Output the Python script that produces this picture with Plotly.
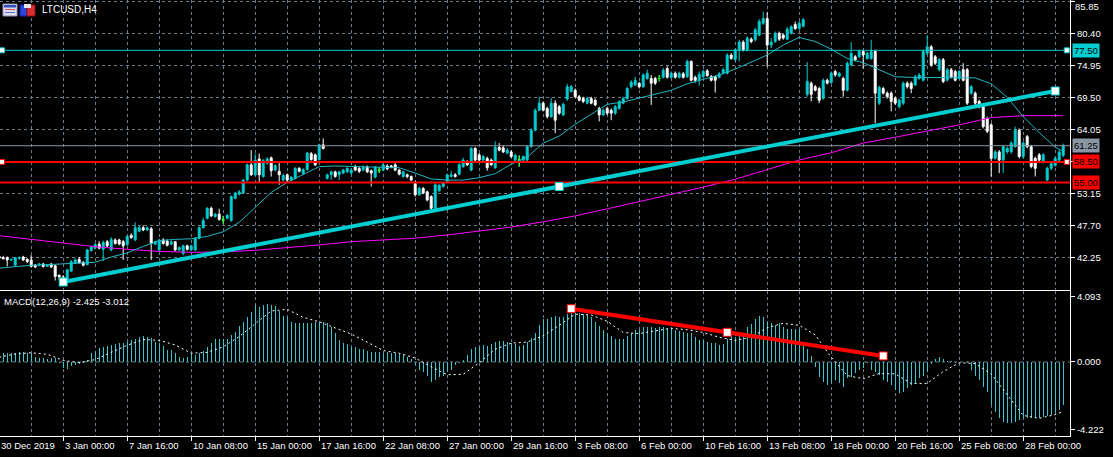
import plotly.graph_objects as go

# ---------------- data ----------------
bars = list(range(267))

open_ = [
    42.4, 42.2, 42.2, 41.8, 40.9, 42.1, 42.3, 41.9, 41.8, 40.9,
    40.9, 41.1, 40.7, 41.1, 40.8, 39.2, 38.9, 38.4, 39.9, 41.2,
    41.9, 41.4, 41.0, 43.4, 43.8, 44.5, 43.6, 44.9, 43.5, 45.2,
    45.2, 44.9, 44.4, 46.0, 45.2, 46.7, 47.3, 46.9, 47.1, 44.5,
    43.5, 45.2, 45.0, 44.5, 44.9, 43.5, 42.9, 44.2, 43.5, 43.5,
    45.5, 47.3, 48.9, 50.6, 49.2, 49.6, 48.6, 48.9, 48.5, 52.3,
    53.0, 53.2, 55.4, 58.0, 56.3, 59.0, 56.0, 58.3, 59.2, 57.1,
    56.9, 55.4, 56.3, 55.4, 55.7, 57.4, 56.5, 57.2, 59.9, 59.7,
    58.9, 61.4, 55.7, 56.3, 56.8, 56.3, 56.6, 56.8, 56.6, 57.7,
    57.4, 57.1, 57.6, 57.0, 55.9, 57.1, 57.1, 57.8, 57.8, 58.0,
    57.1, 56.0, 56.3, 56.0, 54.8, 52.9, 54.0, 53.4, 52.6, 50.6,
    53.6, 54.3, 55.1, 56.0, 56.3, 56.4, 57.7, 58.5, 57.1, 60.8,
    59.7, 58.8, 59.1, 58.8, 57.5, 61.0, 60.9, 60.0, 60.2, 58.8,
    58.8, 58.8, 58.8, 61.1, 63.9, 67.3, 68.5, 67.6, 66.2, 68.5,
    67.9, 66.5, 69.2, 70.5, 70.7, 69.6, 69.3, 68.5, 69.3, 69.0,
    67.6, 66.5, 67.6, 67.3, 66.8, 67.6, 68.5, 69.3, 71.3, 71.6,
    71.9, 71.3, 72.7, 72.7, 72.7, 72.7, 72.9, 74.4, 72.9, 73.6,
    72.9, 73.5, 73.0, 75.6, 72.9, 72.4, 73.0, 74.0, 73.0, 73.0,
    72.9, 73.6, 73.6, 76.7, 75.9, 77.6, 78.9, 77.6, 79.4, 79.3,
    80.1, 82.1, 82.9, 78.4, 79.0, 80.4, 80.1, 79.4, 80.4, 81.9,
    81.2, 81.6, 70.0, 71.9, 71.3, 71.0, 69.3, 72.4, 72.0, 73.9,
    73.1, 72.7, 70.7, 75.0, 76.4, 76.4, 77.3, 76.1, 76.1, 77.3,
    68.5, 71.0, 70.2, 70.2, 69.3, 67.9, 68.5, 71.9, 71.9, 71.6,
    72.7, 72.4, 77.0, 78.1, 76.4, 74.2, 75.9, 72.4, 74.2, 73.9,
    72.7, 74.2, 74.2, 70.2, 70.2, 68.8, 67.9, 65.9, 64.8, 59.1,
    60.2, 58.8, 60.2, 60.2, 61.1, 63.9, 59.4, 62.8, 61.1, 59.1,
    59.7, 58.5, 55.4, 57.4, 57.9, 58.8, 59.6,
]
high = [
    42.7, 42.5, 42.4, 42.0, 42.3, 42.4, 42.5, 42.1, 42.6, 41.1,
    41.3, 41.3, 41.1, 41.3, 41.0, 39.3, 39.2, 40.3, 41.8, 42.1,
    42.3, 41.6, 43.7, 44.2, 44.7, 45.0, 45.1, 45.2, 45.7, 45.5,
    45.4, 45.2, 46.0, 46.3, 48.2, 47.6, 47.7, 47.5, 47.4, 45.1,
    45.4, 45.5, 45.3, 45.1, 45.0, 44.1, 44.4, 44.4, 44.4, 45.7,
    47.5, 49.0, 50.8, 50.9, 49.8, 50.5, 49.3, 49.6, 52.8, 53.4,
    53.7, 55.6, 58.2, 60.5, 59.9, 59.9, 59.0, 59.3, 59.4, 58.1,
    58.5, 56.5, 56.5, 56.1, 57.6, 57.6, 57.4, 60.2, 60.2, 59.9,
    61.6, 62.5, 56.5, 57.0, 57.0, 57.0, 57.3, 57.6, 57.4, 58.0,
    57.6, 57.9, 57.9, 57.2, 57.8, 57.6, 58.3, 58.1, 58.0, 58.3,
    57.3, 57.0, 56.5, 56.2, 55.3, 54.3, 54.2, 53.6, 52.8, 55.0,
    54.7, 55.1, 56.5, 57.0, 56.6, 58.3, 59.2, 58.8, 61.0, 61.0,
    60.0, 59.7, 59.4, 59.1, 62.0, 61.7, 61.3, 60.9, 60.5, 59.9,
    59.6, 59.6, 61.3, 64.2, 67.6, 69.6, 68.8, 67.9, 69.4, 69.0,
    68.2, 68.6, 71.8, 71.6, 71.0, 69.9, 69.6, 69.6, 69.6, 69.3,
    67.9, 67.6, 67.9, 67.6, 68.2, 69.0, 69.6, 71.3, 72.4, 73.0,
    72.1, 73.6, 74.2, 73.3, 73.0, 73.3, 74.5, 74.8, 73.9, 73.9,
    73.9, 73.8, 75.9, 75.8, 73.2, 73.9, 74.2, 74.3, 73.3, 73.2,
    73.8, 74.5, 77.0, 77.0, 77.8, 79.3, 79.2, 79.9, 79.7, 81.3,
    82.8, 84.1, 84.0, 79.6, 80.7, 80.7, 80.4, 81.5, 81.8, 82.4,
    82.5, 83.0, 75.5, 72.2, 71.6, 71.3, 72.7, 72.7, 73.9, 74.2,
    73.8, 73.0, 75.6, 78.9, 76.7, 77.6, 77.6, 77.3, 79.3, 77.6,
    71.5, 71.3, 70.5, 70.5, 69.6, 69.3, 72.2, 72.2, 72.2, 73.3,
    73.6, 77.6, 80.1, 78.4, 76.7, 76.2, 76.2, 74.5, 74.5, 74.2,
    74.2, 75.3, 74.5, 71.6, 70.5, 69.1, 68.2, 66.2, 65.1, 60.5,
    60.5, 61.4, 61.1, 62.0, 64.5, 64.2, 62.0, 63.1, 61.4, 59.4,
    60.0, 60.0, 57.7, 58.5, 59.4, 60.5, 61.6,
]
low = [
    42.0, 41.9, 40.7, 41.6, 40.8, 41.8, 41.6, 41.3, 40.5, 40.4,
    40.7, 40.5, 40.6, 40.4, 38.3, 38.4, 37.95, 38.2, 39.8, 41.1,
    41.2, 40.7, 40.9, 43.2, 43.6, 43.6, 41.6, 44.0, 43.3, 44.4,
    44.3, 41.8, 44.2, 45.4, 45.0, 46.5, 46.7, 46.7, 41.8, 44.3,
    43.3, 44.4, 44.1, 44.3, 43.3, 43.3, 42.6, 43.4, 43.3, 43.3,
    45.3, 47.1, 48.7, 49.1, 49.0, 48.5, 48.0, 48.7, 48.3, 52.1,
    52.8, 53.0, 55.2, 56.1, 56.1, 54.9, 55.8, 58.0, 56.0, 56.9,
    54.6, 55.2, 55.0, 55.2, 55.5, 56.7, 56.3, 57.0, 58.7, 57.8,
    58.7, 60.6, 55.5, 55.4, 55.8, 55.4, 56.4, 56.6, 56.3, 56.9,
    56.6, 56.9, 56.6, 54.3, 55.7, 56.6, 56.9, 57.1, 57.4, 56.9,
    56.2, 55.8, 55.7, 55.2, 52.6, 52.7, 53.0, 51.8, 50.2, 50.4,
    53.4, 54.1, 54.9, 55.8, 55.8, 56.2, 57.5, 57.8, 56.9, 58.6,
    58.6, 58.6, 57.0, 57.8, 57.3, 60.3, 60.0, 59.8, 59.2, 58.6,
    57.7, 58.6, 58.6, 60.9, 63.7, 67.1, 67.1, 65.9, 66.0, 63.4,
    66.5, 66.3, 68.9, 70.3, 69.4, 68.8, 68.5, 68.3, 68.3, 68.0,
    65.4, 66.3, 66.5, 65.6, 66.5, 67.4, 68.3, 69.1, 71.0, 71.4,
    71.0, 71.1, 72.5, 68.2, 71.6, 72.2, 72.7, 72.7, 72.7, 72.7,
    72.7, 72.7, 72.8, 72.2, 72.0, 71.5, 72.8, 73.0, 72.2, 70.3,
    72.7, 73.4, 73.4, 75.9, 75.7, 75.6, 77.3, 77.3, 78.7, 79.0,
    79.9, 81.8, 74.7, 77.9, 78.8, 79.1, 79.3, 79.2, 80.2, 81.0,
    81.0, 81.4, 69.6, 68.8, 70.5, 68.5, 69.1, 71.7, 71.8, 73.0,
    72.9, 69.6, 70.5, 74.8, 75.6, 76.2, 74.4, 75.9, 75.9, 65.1,
    68.2, 70.0, 69.3, 67.1, 68.2, 67.6, 68.2, 71.0, 70.2, 71.4,
    72.5, 72.2, 76.7, 74.7, 75.0, 73.9, 71.9, 72.2, 72.7, 72.2,
    72.5, 72.2, 68.2, 69.9, 68.2, 67.6, 64.2, 63.4, 56.0, 58.9,
    56.6, 56.6, 59.9, 59.9, 60.9, 59.1, 59.1, 60.8, 57.4, 56.0,
    58.5, 58.2, 55.2, 57.1, 57.7, 58.5, 59.3,
]
close = [
    42.1, 42.0, 41.8, 41.9, 42.2, 42.2, 41.8, 41.5, 40.7, 40.6,
    41.1, 40.7, 40.9, 40.6, 39.0, 38.9, 38.5, 40.1, 41.5, 41.8,
    41.3, 40.9, 43.5, 44.0, 44.4, 43.8, 44.8, 44.2, 45.3, 44.6,
    44.5, 44.2, 45.8, 45.6, 47.3, 47.3, 46.9, 47.3, 44.6, 44.9,
    45.2, 44.6, 44.3, 44.9, 43.5, 43.9, 44.2, 43.6, 44.2, 45.5,
    47.3, 48.5, 50.6, 49.3, 49.6, 48.7, 48.6, 49.4, 52.6, 53.2,
    53.4, 55.4, 58.0, 56.3, 58.8, 56.3, 58.7, 59.0, 57.0, 57.9,
    56.3, 56.2, 55.4, 55.9, 57.4, 56.9, 57.2, 60.0, 58.9, 58.0,
    61.4, 60.8, 56.3, 56.8, 56.0, 56.8, 57.1, 57.4, 57.1, 57.1,
    56.9, 57.6, 56.8, 56.6, 57.6, 57.1, 58.0, 57.3, 57.6, 57.1,
    56.4, 56.8, 56.0, 55.4, 52.9, 54.0, 53.2, 52.0, 50.6, 54.6,
    54.5, 54.9, 56.3, 56.3, 56.0, 58.0, 58.8, 58.0, 60.8, 58.8,
    58.8, 59.4, 57.5, 58.0, 61.0, 60.5, 60.2, 60.5, 59.4, 59.6,
    58.8, 59.4, 61.1, 63.9, 67.3, 68.5, 67.3, 66.2, 68.5, 65.6,
    66.8, 68.3, 71.3, 71.3, 69.6, 69.0, 68.8, 69.3, 68.5, 68.2,
    66.5, 67.3, 66.8, 66.8, 67.9, 68.8, 69.3, 71.0, 72.1, 72.4,
    71.3, 73.3, 73.6, 71.9, 71.9, 72.7, 74.1, 72.9, 73.6, 72.9,
    73.6, 72.9, 75.6, 72.4, 72.4, 73.4, 73.9, 73.2, 72.4, 72.4,
    73.5, 74.2, 76.7, 76.1, 77.6, 78.9, 77.6, 79.6, 79.0, 81.0,
    82.4, 82.9, 78.4, 78.9, 80.4, 79.4, 79.6, 81.1, 81.5, 81.2,
    82.1, 82.7, 72.2, 70.0, 70.7, 69.0, 72.4, 71.9, 73.6, 73.3,
    73.6, 70.7, 75.3, 77.0, 75.9, 77.3, 76.7, 77.0, 77.3, 70.2,
    71.2, 70.2, 69.6, 68.8, 68.5, 69.0, 71.9, 71.3, 71.0, 73.0,
    73.3, 77.3, 78.1, 75.0, 75.3, 75.9, 72.2, 74.2, 73.0, 72.4,
    73.9, 72.4, 68.5, 71.3, 68.5, 67.9, 64.5, 63.7, 59.1, 60.2,
    58.8, 61.1, 60.8, 61.7, 63.9, 59.4, 61.7, 61.1, 57.7, 57.4,
    58.8, 59.7, 57.4, 58.2, 59.1, 60.2, 61.25,
]

# moving averages (at regular bar positions)
fast_ma_bars = list(range(0, 265, 4)) + [266]
fast_ma = [
    40.4, 40.7, 40.9, 41.0, 41.1, 41.2, 41.4, 42.3, 43.0, 44.1,
    45.1, 45.3, 45.4, 45.8, 46.6, 48.2, 50.7, 53.3, 55.0, 56.3,
    57.7, 57.8, 57.7, 57.6, 57.6, 57.5, 56.6, 55.6, 55.4, 55.4,
    55.8, 56.5, 58.1, 59.3, 61.7, 62.9, 64.9, 66.6, 68.3, 68.7,
    69.4, 70.0, 70.7, 71.8, 72.6, 73.3, 74.3, 75.5, 76.7, 78.4,
    79.7, 79.0, 77.7, 76.1, 75.4, 74.2, 73.0, 72.9, 72.9, 72.9,
    72.9, 72.8, 71.8, 69.5, 66.2, 63.5, 61.0, 60.3,
]
slow_ma_bars = list(range(0, 257, 8)) + [266]
slow_ma = [
    45.93, 45.32, 44.70, 44.06, 43.61, 43.25, 43.10, 43.15, 43.45, 43.85,
    44.35, 44.91, 45.20, 45.50, 46.05, 46.70, 47.40, 48.30, 49.30, 50.50,
    51.70, 52.90, 54.20, 55.55, 57.12, 58.82, 60.05, 61.70, 62.70, 63.70,
    64.80, 66.05, 66.37, 66.37,
]

# MACD(12,26,9)
macd_main = [
    0.58, 0.59, 0.59, 0.59, 0.59, 0.63, 0.63, 0.59, 0.54, 0.33,
    0.23, 0.23, 0.17, 0.23, 0.23, -0.04, -0.40, -0.44, -0.25, -0.19,
    -0.13, -0.08, 0.13, 0.54, 0.71, 0.86, 0.92, 1.00, 1.07, 1.13,
    1.17, 1.21, 1.27, 1.38, 1.44, 1.55, 1.65, 1.59, 1.48, 1.27,
    1.21, 1.00, 0.75, 0.75, 0.54, 0.33, 0.25, 0.33, 0.59, 0.45,
    0.54, 0.69, 0.92, 1.17, 1.42, 1.42, 1.42, 1.42, 1.69, 1.90,
    2.26, 2.53, 2.84, 3.16, 3.57, 3.47, 3.57, 3.62, 3.57, 3.51,
    3.22, 2.88, 2.80, 2.53, 2.47, 2.47, 2.47, 2.47, 2.47, 2.53,
    2.53, 2.49, 2.42, 2.17, 1.84, 1.38, 1.21, 1.13, 0.92, 0.92,
    0.79, 0.79, 0.71, 0.63, 0.65, 0.63, 0.59, 0.65, 0.59, 0.54,
    0.50, 0.44, 0.33, 0.17, -0.19, -0.50, -0.61, -0.88, -1.23, -1.13,
    -0.96, -0.88, -0.61, -0.50, -0.19, -0.04, 0.13, 0.44, 0.79, 0.92,
    0.96, 1.07, 1.00, 1.13, 1.27, 1.34, 1.34, 1.27, 1.17, 1.13,
    1.00, 1.06, 1.27, 1.48, 1.84, 2.32, 2.68, 2.68, 2.80, 2.88,
    2.80, 2.80, 3.01, 3.05, 3.05, 3.05, 3.01, 2.95, 2.80, 2.53,
    2.26, 2.00, 1.80, 1.63, 1.42, 1.42, 1.42, 1.63, 1.80, 2.00,
    2.00, 2.17, 2.17, 2.17, 2.10, 2.17, 2.17, 2.10, 2.05, 2.00,
    1.96, 1.90, 1.80, 1.80, 1.55, 1.38, 1.38, 1.27, 1.21, 1.17,
    1.07, 1.13, 1.42, 1.69, 1.59, 1.80, 1.84, 2.17, 2.38, 2.68,
    2.88, 2.84, 2.53, 2.42, 2.32, 2.42, 2.17, 2.05, 2.05, 2.05,
    2.05, 1.21, 0.79, 0.38, -0.29, -0.92, -1.23, -1.44, -1.34, -1.13,
    -1.34, -1.59, -1.02, -0.96, -0.71, -0.50, -0.40, -0.04, -0.50, -0.61,
    -0.82, -1.13, -1.23, -1.44, -1.76, -1.96, -1.86, -1.65, -1.44, -1.30,
    -1.02, -0.88, -0.61, -0.13, 0.17, 0.29, 0.17, 0.08, 0.08, -0.04,
    0.02, 0.02, -0.08, -0.50, -0.88, -1.13, -1.55, -1.86, -2.70, -3.11,
    -3.53, -3.74, -3.85, -3.85, -3.74, -3.64, -3.53, -3.53, -3.53, -3.53,
    -3.53, -3.43, -3.40, -3.35, -3.20, -2.98, -2.70,
]
signal_bars = list(range(0, 265, 4)) + [266]
macd_signal = [
    0.30, 0.50, 0.58, 0.48, 0.10, -0.04, 0.15, 0.60, 1.05, 1.40,
    1.36, 1.07, 0.55, 0.60, 0.95, 1.59, 2.40, 3.20, 3.30, 2.80,
    2.52, 2.15, 1.75, 1.25, 0.72, 0.55, 0.25, -0.30, -0.80, -0.77,
    -0.05, 0.80, 1.18, 1.25, 1.65, 2.30, 3.00, 2.95, 2.55, 1.85,
    1.78, 1.95, 2.11, 2.02, 1.85, 1.55, 1.35, 1.55, 2.15, 2.42,
    2.30, 1.70, 0.30, -0.85, -1.05, -0.72, -0.75, -1.35, -1.34, -0.60,
    -0.05, -0.10, -0.75, -2.05, -3.35, -3.53, -3.30, -3.10,
]

# chart objects
trend_bars = [16, 264]
trend_prices = [38.04, 70.57]
macd_line_bars = [143, 221]
macd_line_values = [3.34, 0.38]
bid_price = 61.25
hline_levels = [77.50, 58.50, 55.00]
hline_colors = ["#00ced1", "#ff0000", "#ff0000"]
hline_widths = [1, 2, 2]
hline_selected = [True, True, False]

price_ticks = [42.25, 47.70, 53.15, 58.60, 64.05, 69.50, 74.95, 80.40, 85.85]
price_tick_text = ["42.25", "47.70", "53.15", "", "64.05", "69.50", "74.95", "80.40", ""]
top_price_label = 85.85
macd_ticks = [-4.222, 0.0, 4.093]
macd_tick_text = ["-4.222", "0.000", "4.093"]
date_label_bars = list(range(0, 257, 16))
date_labels = ["30 Dec 2019", "3 Jan 00:00", "7 Jan 16:00", "10 Jan 08:00",
               "15 Jan 00:00", "17 Jan 16:00", "22 Jan 08:00", "27 Jan 00:00",
               "29 Jan 16:00", "3 Feb 08:00", "6 Feb 00:00", "10 Feb 16:00",
               "13 Feb 08:00", "18 Feb 00:00", "20 Feb 16:00", "25 Feb 08:00",
               "28 Feb 00:00"]
title_text = "LTCUSD,H4"
macd_title = "MACD(12,26,9) -2.425 -3.012"

# ---------------- style ----------------
W, H = 1113, 457
MR, MB = 43, 21
PW, PH = W - MR, H - MB
X_RANGE = [0.2, 267.7]
PRICE_RANGE = [36.68, 86.07]
MACD_RANGE = [-4.64, 4.45]
PRICE_DOMAIN = [146 / PH, 1]
MACD_DOMAIN = [0, 145 / PH]
BULL = "#00ced1"
BEAR = "#ffffff"
GRID = "#6e7b8b"
FONT = "Liberation Sans"
FS = 9.5

fig = go.Figure()

fig.add_trace(go.Candlestick(
    x=bars, open=open_, high=high, low=low, close=close,
    increasing=dict(line=dict(color=BULL, width=1), fillcolor=BULL),
    decreasing=dict(line=dict(color=BEAR, width=1), fillcolor=BEAR),
    whiskerwidth=0, hoverinfo="skip", showlegend=False, xaxis="x", yaxis="y"))

# doji crosses (open == close) drawn in lime
dx, dy = [], []
for i in bars:
    if open_[i] == close[i]:
        dx += [i, i, None, i - 0.4, i + 0.4, None]
        dy += [low[i], high[i], None, close[i], close[i], None]
fig.add_trace(go.Scatter(x=dx, y=dy, mode="lines", line=dict(color="#00ff00", width=1),
                         hoverinfo="skip", showlegend=False, xaxis="x", yaxis="y"))

fig.add_trace(go.Scatter(x=slow_ma_bars, y=slow_ma, mode="lines",
                         line=dict(color="#ff00ff", width=1), hoverinfo="skip",
                         showlegend=False, xaxis="x", yaxis="y"))
fig.add_trace(go.Scatter(x=fast_ma_bars, y=fast_ma, mode="lines",
                         line=dict(color="#20b8c4", width=1), hoverinfo="skip",
                         showlegend=False, xaxis="x", yaxis="y"))

# bid line
fig.add_trace(go.Scatter(x=X_RANGE, y=[bid_price, bid_price], mode="lines",
                         line=dict(color="#8a96a3", width=1), hoverinfo="skip",
                         showlegend=False, xaxis="x", yaxis="y"))

# horizontal lines
for lvl, col, wd, sel in zip(hline_levels, hline_colors, hline_widths, hline_selected):
    fig.add_trace(go.Scatter(x=X_RANGE, y=[lvl, lvl], mode="lines",
                             line=dict(color=col, width=wd), hoverinfo="skip",
                             showlegend=False, xaxis="x", yaxis="y"))
    if sel:
        fig.add_trace(go.Scatter(x=[X_RANGE[0] + 0.5, X_RANGE[1] - 0.8], y=[lvl, lvl],
                                 mode="markers",
                                 marker=dict(symbol="square", size=5, color="white",
                                             line=dict(color=col, width=1)),
                                 hoverinfo="skip", showlegend=False, cliponaxis=False,
                                 xaxis="x", yaxis="y"))

# trend line
fig.add_trace(go.Scatter(x=trend_bars, y=trend_prices, mode="lines",
                         line=dict(color=BULL, width=4), hoverinfo="skip",
                         showlegend=False, xaxis="x", yaxis="y"))
tmx = [trend_bars[0], sum(trend_bars) / 2, trend_bars[1]]
tmy = [trend_prices[0], sum(trend_prices) / 2, trend_prices[1]]
fig.add_trace(go.Scatter(x=tmx, y=tmy, mode="markers",
                         marker=dict(symbol="square", size=8, color="white",
                                     line=dict(color=BULL, width=1)),
                         hoverinfo="skip", showlegend=False, xaxis="x", yaxis="y"))

# MACD panel
fig.add_trace(go.Bar(x=bars, y=macd_main, width=0.3,
                     marker=dict(color="#3cc6cc", line=dict(width=0)),
                     hoverinfo="skip", showlegend=False, xaxis="x2", yaxis="y2"))
fig.add_trace(go.Scatter(x=X_RANGE, y=[0, 0], mode="lines",
                         line=dict(color=GRID, width=1, dash="3px,3px"),
                         hoverinfo="skip", showlegend=False, xaxis="x2", yaxis="y2"))
fig.add_trace(go.Scatter(x=signal_bars, y=macd_signal, mode="lines",
                         line=dict(color="white", width=1, dash="2px,3px"),
                         hoverinfo="skip", showlegend=False, xaxis="x2", yaxis="y2"))
fig.add_trace(go.Scatter(x=macd_line_bars, y=macd_line_values, mode="lines",
                         line=dict(color="#ff0000", width=4), hoverinfo="skip",
                         showlegend=False, xaxis="x2", yaxis="y2"))
mmx = [macd_line_bars[0], sum(macd_line_bars) / 2, macd_line_bars[1]]
mmy = [macd_line_values[0], sum(macd_line_values) / 2, macd_line_values[1]]
fig.add_trace(go.Scatter(x=mmx, y=mmy, mode="markers",
                         marker=dict(symbol="square", size=8, color="white",
                                     line=dict(color="#ff0000", width=1)),
                         hoverinfo="skip", showlegend=False, xaxis="x2", yaxis="y2"))

axis_font = dict(family=FONT, size=FS, color="white")
grid_common = dict(showgrid=True, gridcolor=GRID, gridwidth=1, griddash="3px,3px",
                   zeroline=False)

annotations = []
annotations.append(dict(text=title_text, xref="paper", yref="paper", x=40 / PW, y=1 - 9 / PH,
                        xanchor="left", yanchor="middle", showarrow=False,
                        font=dict(family=FONT, size=10, color="white")))
annotations.append(dict(text=macd_title, xref="paper", yref="paper", x=2 / PW,
                        y=MACD_DOMAIN[1] - 10 / PH,
                        xanchor="left", yanchor="middle", showarrow=False,
                        font=dict(family=FONT, size=FS, color="white")))
span = X_RANGE[1] - X_RANGE[0]
for b, t in zip(date_label_bars, date_labels):
    annotations.append(dict(text=t, xref="paper", yref="paper",
                            x=(b - X_RANGE[0]) / span, y=0, xanchor="left", yanchor="top",
                            xshift=0, yshift=-2, showarrow=False,
                            font=dict(family=FONT, size=FS, color="white")))
# top price label, nudged just inside the top edge so it stays readable
annotations.append(dict(text=f"{top_price_label:.2f}", xref="paper", yref="paper", x=1,
                        y=1, xanchor="left", yanchor="top", xshift=4, yshift=0,
                        borderpad=0, showarrow=False,
                        font=dict(family=FONT, size=FS, color="white")))

def axis_box(val, bg):
    return dict(text=f"{val:.2f}", xref="paper", yref="y", x=1, y=val, xanchor="left",
                yanchor="middle", xshift=2, showarrow=False, bgcolor=bg, borderpad=1,
                font=dict(family=FONT, size=FS, color="black"))

annotations.append(axis_box(bid_price, "#8a96a3"))
for lvl, col in zip(hline_levels, hline_colors):
    annotations.append(axis_box(lvl, col))

def px(x):
    return x / PW

def py(y):
    return 1 - y / PH

shapes = [
    dict(type="rect", xref="paper", yref="paper", x0=px(3), x1=px(17), y0=py(16), y1=py(4),
         fillcolor="#dcdcf0", line=dict(color="#9090b0", width=1)),
    dict(type="rect", xref="paper", yref="paper", x0=px(4), x1=px(16), y0=py(7.5), y1=py(5),
         fillcolor="#3050c0", line=dict(width=0)),
    dict(type="rect", xref="paper", yref="paper", x0=px(5), x1=px(15), y0=py(10), y1=py(9),
         fillcolor="#e05050", line=dict(width=0)),
    dict(type="rect", xref="paper", yref="paper", x0=px(5), x1=px(15), y0=py(13), y1=py(12),
         fillcolor="#6070d0", line=dict(width=0)),
    dict(type="rect", xref="paper", yref="paper", x0=px(20), x1=px(27), y0=py(16), y1=py(5),
         fillcolor="#2846e0", line=dict(color="#1020a0", width=1)),
    dict(type="rect", xref="paper", yref="paper", x0=px(27), x1=px(35), y0=py(16), y1=py(5),
         fillcolor="#d83030", line=dict(color="#901010", width=1)),
    dict(type="rect", xref="paper", yref="paper", x0=px(24), x1=px(31), y0=py(8), y1=py(4),
         fillcolor="#e8e8e8", line=dict(width=0)),
    # short tick mark for the top price label
    dict(type="line", xref="paper", yref="y", x0=1, x1=1 + 4 / PW,
         y0=top_price_label, y1=top_price_label, line=dict(color="white", width=1)),
]

fig.update_layout(
    width=W, height=H, autosize=False,
    margin=dict(l=0, r=MR, t=0, b=MB, pad=0),
    paper_bgcolor="black", plot_bgcolor="black",
    showlegend=False, boxgap=0.3, boxgroupgap=0.3, bargap=0,
    font=dict(family=FONT, size=FS, color="white"),
    xaxis=dict(domain=[0, 1], range=X_RANGE, anchor="y", tickmode="linear", tick0=0, dtick=8,
               showticklabels=False, ticks="", showline=True, linecolor="white", linewidth=1,
               rangeslider=dict(visible=False), fixedrange=True, **grid_common),
    xaxis2=dict(domain=[0, 1], range=X_RANGE, anchor="y2", matches="x", tickmode="linear",
                tick0=0, dtick=16, showticklabels=False, ticks="outside", ticklen=4,
                tickcolor="white", showline=True, linecolor="white", linewidth=1,
                minor=dict(tick0=0, dtick=8, showgrid=True, gridcolor=GRID,
                           griddash="3px,3px", ticks=""),
                fixedrange=True, **grid_common),
    yaxis=dict(domain=PRICE_DOMAIN, range=PRICE_RANGE, anchor="x", side="right",
               tickmode="array", tickvals=price_ticks, ticktext=price_tick_text,
               ticks="outside", ticklen=4,
               tickcolor="white", tickfont=axis_font, showline=True, linecolor="white",
               linewidth=1, fixedrange=True, **grid_common),
    yaxis2=dict(domain=MACD_DOMAIN, range=MACD_RANGE, anchor="x2", side="right",
                tickmode="array", tickvals=macd_ticks, ticktext=macd_tick_text,
                ticks="outside", ticklen=4, tickcolor="white", tickfont=axis_font,
                showline=True, linecolor="white", linewidth=1, showgrid=False,
                zeroline=False, fixedrange=True),
    annotations=annotations,
    shapes=shapes,
)

fig.write_html("out.html", config={"displayModeBar": False, "staticPlot": True})

# remove the browser's default page margin so the chart sits at the top-left corner
with open("out.html", "r", encoding="utf-8") as fh:
    html = fh.read()
html = html.replace("<body>", '<body style="margin:0;padding:0;background:black;overflow:hidden">', 1)
with open("out.html", "w", encoding="utf-8") as fh:
    fh.write(html)
